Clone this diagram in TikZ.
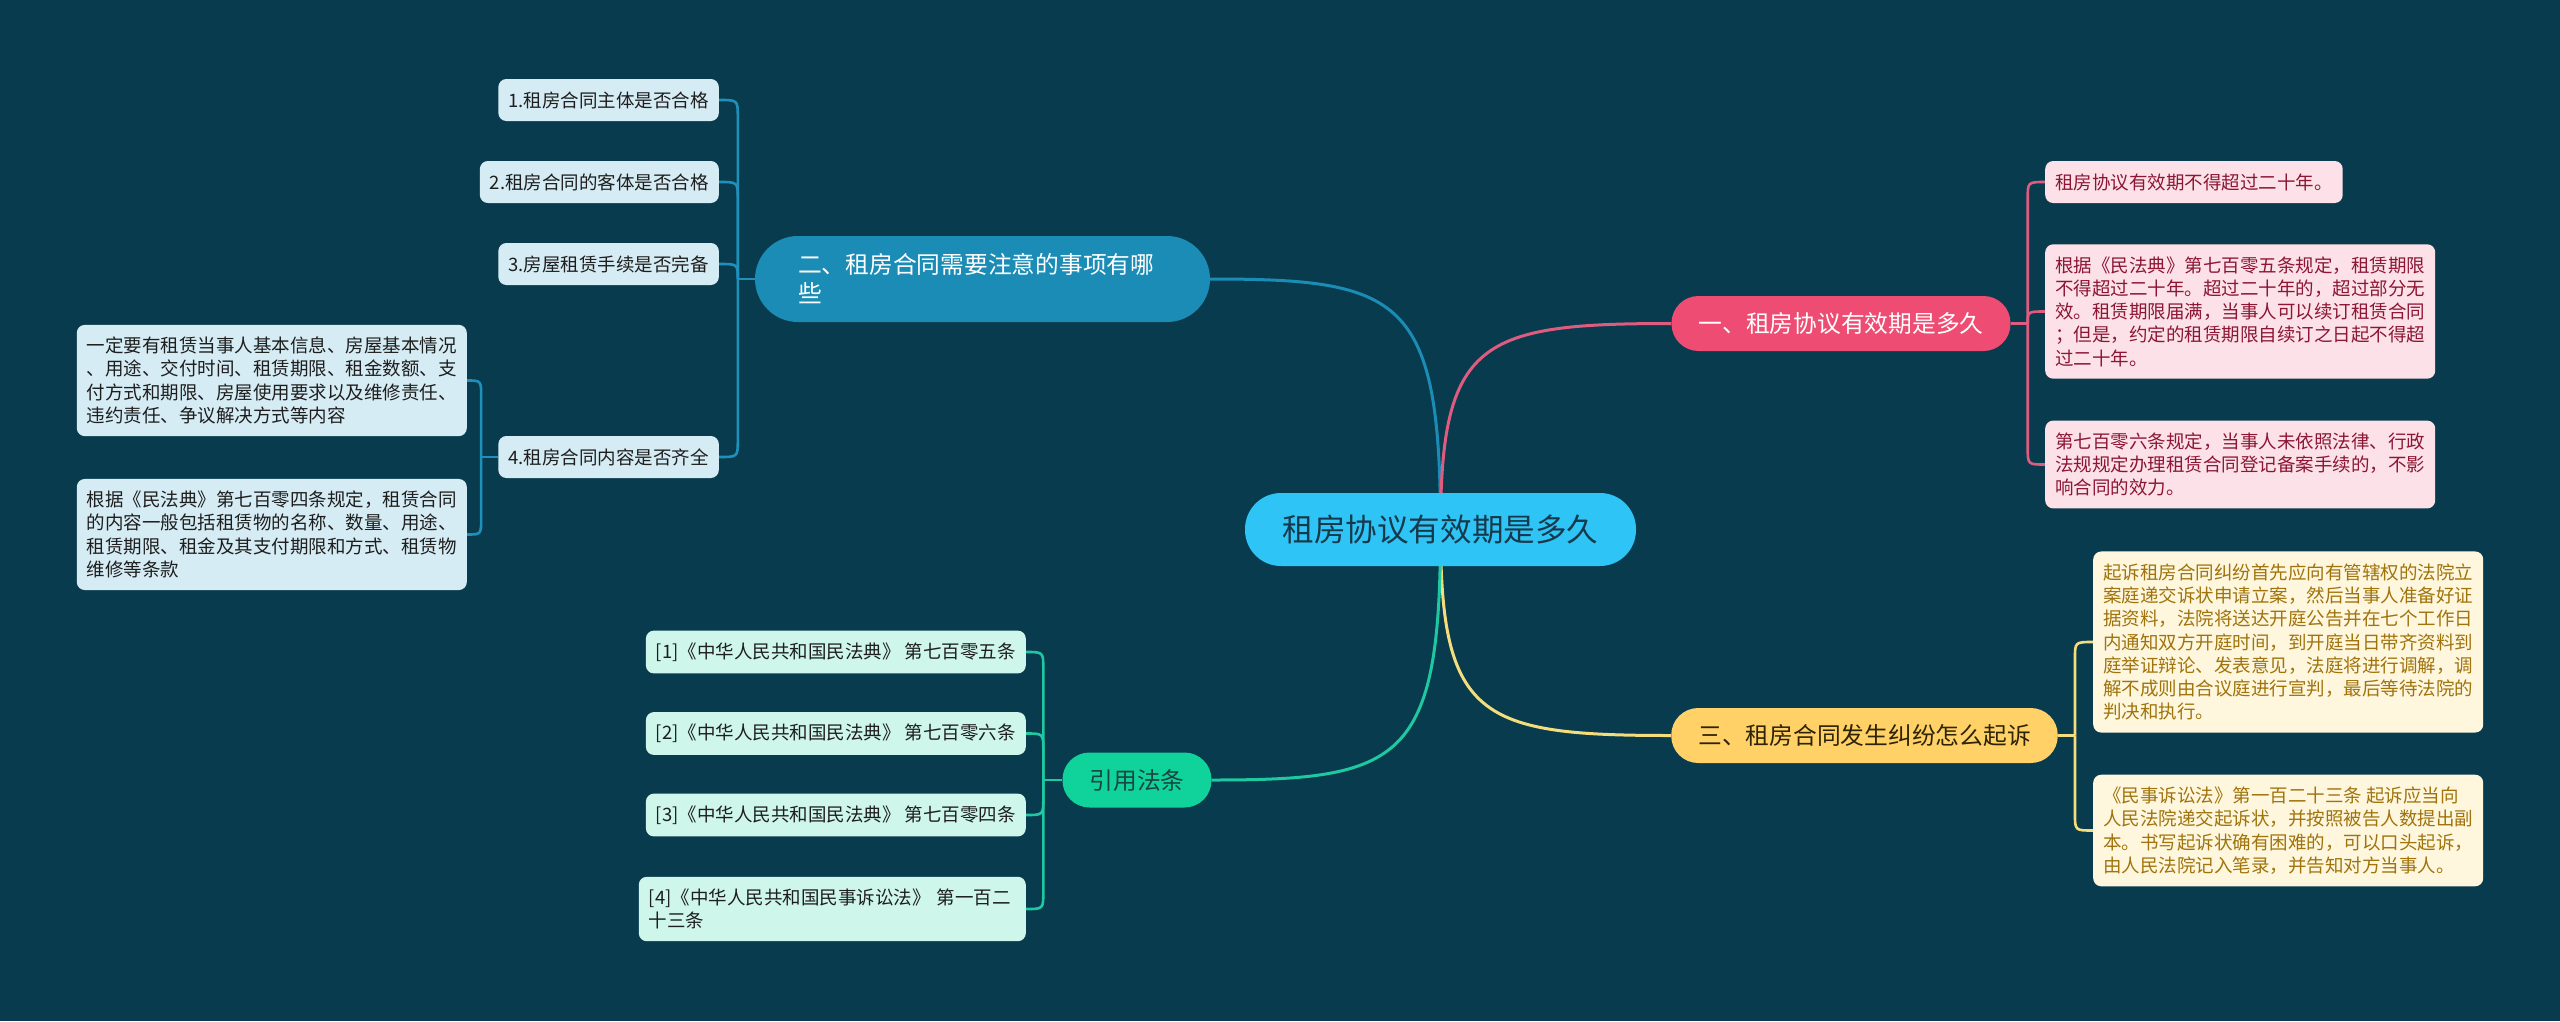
\documentclass[tikz,border=0pt]{standalone}
\usepackage{fontspec}
\setmainfont{Noto Sans CJK SC}
\usetikzlibrary{calc}
\pgfdeclarelayer{edges}
\pgfsetlayers{edges,main}
\definecolor{bgc}{RGB}{9,59,78}
\definecolor{cmain}{RGB}{46,197,246}
\definecolor{cmaintext}{RGB}{23,57,76}
\definecolor{cblue}{RGB}{26,140,181}
\definecolor{cbluel}{RGB}{30,144,186}
\definecolor{cpink}{RGB}{238,76,114}
\definecolor{cpinkl}{RGB}{222,92,128}
\definecolor{cyel}{RGB}{255,209,102}
\definecolor{cyell}{RGB}{244,221,125}
\definecolor{cyeltext}{RGB}{45,35,5}
\definecolor{cgreen}{RGB}{16,211,155}
\definecolor{cgreenl}{RGB}{30,200,160}
\definecolor{cgreentext}{RGB}{25,70,62}
\definecolor{leafblue}{RGB}{214,236,244}
\definecolor{leafpink}{RGB}{252,226,232}
\definecolor{leafpinktext}{RGB}{140,22,52}
\definecolor{leafyel}{RGB}{254,247,222}
\definecolor{leafyeltext}{RGB}{160,115,12}
\definecolor{leafgreen}{RGB}{206,246,234}
\definecolor{leaftext}{RGB}{30,30,30}
\tikzset{
  leafbox/.style={rounded corners=8pt, inner xsep=10pt, inner ysep=12pt, align=left,
    font=\fontsize{18.5}{23.3}\selectfont, minimum height=42pt},
  leafb/.style={leafbox, fill=leafblue, text=leaftext},
  leafp/.style={leafbox, fill=leafpink, text=leafpinktext},
  leafy/.style={leafbox, fill=leafyel, text=leafyeltext},
  leafg/.style={leafbox, fill=leafgreen, text=leaftext},
  branchbox/.style={rounded corners=27pt, inner xsep=27pt, inner ysep=6pt, minimum height=55pt,
    font=\fontsize{23.75}{29}\selectfont},
  rootbox/.style={rounded corners=36pt, inner xsep=37.5pt, minimum height=73pt, fill=cmain,
    text=cmaintext, font=\fontsize{31.6}{36}\selectfont},
  mainline/.style={line width=3pt},
  subline/.style={line width=2.6pt},
}
\begin{document}
\begin{tikzpicture}[x=1pt,y=-1pt]
\begin{pgfonlayer}{edges}
\fill[bgc] (0,0) rectangle (2560,1021);
\end{pgfonlayer}
\useasboundingbox (0,0) rectangle (2560,1021);

% root
\node[rootbox] (c) at (1440.5,529.5) {租房协议有效期是多久};

% branches
\node[branchbox, fill=cblue, text=white, rounded corners=43pt, inner xsep=43pt, text width=369pt,
  align=left, minimum height=86pt] (b2) at (982.5,279) {二、租房合同需要注意的事项有哪\\些};
\node[branchbox, fill=cpink, text=white] (b1) at (1841,323.5) {一、租房协议有效期是多久};
\node[branchbox, fill=cyel, text=cyeltext] (b3) at (1864.5,735.5) {三、租房合同发生纠纷怎么起诉};
\node[branchbox, fill=cgreen, text=cgreentext] (b4) at (1137,780) {引用法条};

% blue leaves
\node[leafb, anchor=east] (l1) at (719,100) {1.租房合同主体是否合格};
\node[leafb, anchor=east] (l2) at (719,182) {2.租房合同的客体是否合格};
\node[leafb, anchor=east] (l3) at (719,264) {3.房屋租赁手续是否完备};
\node[leafb, anchor=east] (l4) at (719,457) {4.租房合同内容是否齐全};
\node[leafb, anchor=east] (la) at (467,380.5) {一定要有租赁当事人基本信息、房屋基本情况\\、用途、交付时间、租赁期限、租金数额、支\\付方式和期限、房屋使用要求以及维修责任、\\违约责任、争议解决方式等内容};
\node[leafb, anchor=east] (lb) at (467,534.5) {根据《民法典》第七百零四条规定，租赁合同\\的内容一般包括租赁物的名称、数量、用途、\\租赁期限、租金及其支付期限和方式、租赁物\\维修等条款};

% pink leaves
\node[leafp, anchor=west] (p1) at (2045,182) {租房协议有效期不得超过二十年。};
\node[leafp, anchor=west] (p2) at (2045,311.5) {根据《民法典》第七百零五条规定，租赁期限\\不得超过二十年。超过二十年的，超过部分无\\效。租赁期限届满，当事人可以续订租赁合同\\；但是，约定的租赁期限自续订之日起不得超\\过二十年。};
\node[leafp, anchor=west] (p3) at (2045,464.5) {第七百零六条规定，当事人未依照法律、行政\\法规规定办理租赁合同登记备案手续的，不影\\响合同的效力。};

% yellow leaves
\node[leafy, anchor=west] (y1) at (2093,642) {起诉租房合同纠纷首先应向有管辖权的法院立\\案庭递交诉状申请立案，然后当事人准备好证\\据资料，法院将送达开庭公告并在七个工作日\\内通知双方开庭时间，到开庭当日带齐资料到\\庭举证辩论、发表意见，法庭将进行调解，调\\解不成则由合议庭进行宣判，最后等待法院的\\判决和执行。};
\node[leafy, anchor=west] (y2) at (2093,830.5) {《民事诉讼法》第一百二十三条 起诉应当向\\人民法院递交起诉状，并按照被告人数提出副\\本。书写起诉状确有困难的，可以口头起诉，\\由人民法院记入笔录，并告知对方当事人。};

% green leaves
\node[leafg, anchor=east] (g1) at (1026,652) {[1]《中华人民共和国民法典》 第七百零五条};
\node[leafg, anchor=east] (g2) at (1026,733.5) {[2]《中华人民共和国民法典》 第七百零六条};
\node[leafg, anchor=east] (g3) at (1026,815) {[3]《中华人民共和国民法典》 第七百零四条};
\node[leafg, anchor=east, text width=367pt] (g4) at (1026,909) {[4]《中华人民共和国民事诉讼法》 第一百二\\十三条};

\begin{pgfonlayer}{edges}
% root to branches
\draw[cblue, mainline] (c.center) .. controls ($(c.center |- b2.east)+(0,17)$) and ($(c.center |- b2.east)+(-39,0)$) .. (b2.east);
\draw[cpinkl, mainline] (c.center) .. controls ($(c.center |- b1.west)+(0,17)$) and ($(c.center |- b1.west)+(39,0)$) .. (b1.west);
\draw[cyell, mainline] (c.center) .. controls ($(c.center |- b3.west)+(0,-17)$) and ($(c.center |- b3.west)+(39,0)$) .. (b3.west);
\draw[cgreenl, mainline] (c.center) .. controls ($(c.center |- b4.east)+(0,-17)$) and ($(c.center |- b4.east)+(-39,0)$) .. (b4.east);

% blue group
\coordinate (j2) at ($(b2.west)+(-17,0)$);
\draw[cbluel, subline] (b2.west) -- (j2);
\draw[cbluel, subline] (j2) -- ($(j2 |- l1.east)+(0,17)$) .. controls (j2 |- l1.east) .. (l1.east);
\draw[cbluel, subline] (j2) -- ($(j2 |- l2.east)+(0,17)$) .. controls (j2 |- l2.east) .. (l2.east);
\draw[cbluel, subline] (j2) .. controls (j2 |- l3.east) .. (l3.east);
\draw[cbluel, subline] (j2) -- ($(j2 |- l4.east)+(0,-17)$) .. controls (j2 |- l4.east) .. (l4.east);

\coordinate (j4) at ($(l4.west)+(-17,0)$);
\draw[cbluel, subline] (l4.west) -- (j4);
\draw[cbluel, subline] (j4) -- ($(j4 |- la.east)+(0,17)$) .. controls (j4 |- la.east) .. (la.east);
\draw[cbluel, subline] (j4) -- ($(j4 |- lb.east)+(0,-17)$) .. controls (j4 |- lb.east) .. (lb.east);

% pink group
\coordinate (j1) at ($(b1.east)+(17,0)$);
\draw[cpinkl, subline] (b1.east) -- (j1);
\draw[cpinkl, subline] (j1) -- ($(j1 |- p1.west)+(0,17)$) .. controls (j1 |- p1.west) .. (p1.west);
\draw[cpinkl, subline] (j1) .. controls (j1 |- p2.west) .. (p2.west);
\draw[cpinkl, subline] (j1) -- ($(j1 |- p3.west)+(0,-17)$) .. controls (j1 |- p3.west) .. (p3.west);

% yellow group
\coordinate (j3) at ($(b3.east)+(17,0)$);
\draw[cyell, subline] (b3.east) -- (j3);
\draw[cyell, subline] (j3) -- ($(j3 |- y1.west)+(0,17)$) .. controls (j3 |- y1.west) .. (y1.west);
\draw[cyell, subline] (j3) -- ($(j3 |- y2.west)+(0,-17)$) .. controls (j3 |- y2.west) .. (y2.west);

% green group
\coordinate (j5) at ($(b4.west)+(-19,0)$);
\draw[cgreenl, subline] (b4.west) -- (j5);
\draw[cgreenl, subline] (j5) -- ($(j5 |- g1.east)+(0,17)$) .. controls (j5 |- g1.east) .. (g1.east);
\draw[cgreenl, subline] (j5) -- ($(j5 |- g2.east)+(0,17)$) .. controls (j5 |- g2.east) .. (g2.east);
\draw[cgreenl, subline] (j5) -- ($(j5 |- g3.east)+(0,-17)$) .. controls (j5 |- g3.east) .. (g3.east);
\draw[cgreenl, subline] (j5) -- ($(j5 |- g4.east)+(0,-17)$) .. controls (j5 |- g4.east) .. (g4.east);
\end{pgfonlayer}
\end{tikzpicture}
\end{document}
